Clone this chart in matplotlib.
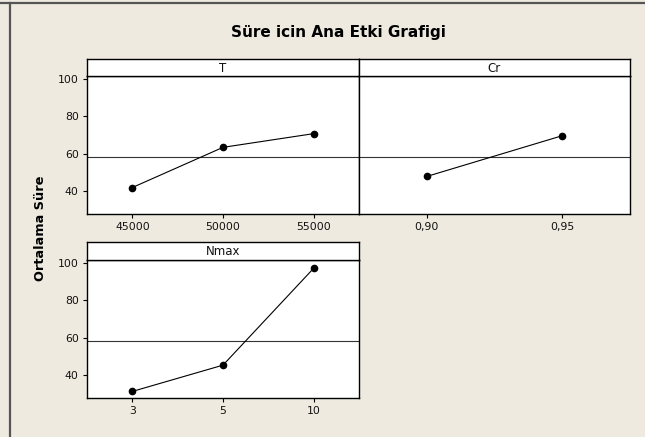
import matplotlib.pyplot as plt
from matplotlib.lines import Line2D

# factor levels and mean response for each level
t_levels = ["45000", "50000", "55000"]
t_means = [42.1, 63.5, 70.8]

cr_levels = ["0,90", "0,95"]
cr_means = [48.0, 69.7]

nmax_levels = ["3", "5", "10"]
nmax_means = [31.5, 45.5, 97.1]

grand_mean = 58.6
yticks = [40, 60, 80, 100]

W, H = 645, 437
bg = "#eeeae0"
font = "DejaVu Sans"

fig = plt.figure(figsize=(W / 100, H / 100), dpi=100, facecolor=bg)


def box(x0, y0, x1, y1):
    # pixel box (top-left origin) -> figure fraction rect
    return [x0 / W, 1 - y1 / H, (x1 - x0) / W, (y1 - y0) / H]


def panel(x0, x1, y_strip, y0, y1, name, levels, means, show_y):
    ax = fig.add_axes(box(x0, y0, x1, y1))
    ax.set_facecolor("white")
    pos = list(range(len(levels)))
    ax.axhline(grand_mean, color="#333333", lw=0.8, zorder=1)
    ax.plot(pos, means, color="black", lw=0.8, marker="o", ms=4.5, zorder=3)
    ax.set_xlim(-0.5, len(levels) - 0.5)
    ax.set_ylim(28, 101.5)
    ax.set_xticks(pos)
    ax.set_xticklabels(levels, fontsize=7.8, family=font, color="#111111")
    if show_y:
        ax.set_yticks(yticks)
        ax.set_yticklabels([str(v) for v in yticks], fontsize=7.8, family=font, color="#111111")
    else:
        ax.set_yticks([])
    ax.tick_params(direction="out", length=3, width=0.8, pad=3)
    for s in ax.spines.values():
        s.set_linewidth(1.0)

    # strip with factor name
    st = fig.add_axes(box(x0, y_strip, x1, y0))
    st.set_facecolor("white")
    st.set_xticks([])
    st.set_yticks([])
    for s in st.spines.values():
        s.set_linewidth(1.0)
    st.text(0.5, 0.45, name, ha="center", va="center", fontsize=8.5, family=font,
            color="#111111", transform=st.transAxes)
    return ax


panel(87, 359, 58.5, 76, 214, "T", t_levels, t_means, True)
panel(359, 630, 58.5, 76, 214, "Cr", cr_levels, cr_means, False)
panel(87, 359, 242, 260, 398, "Nmax", nmax_levels, nmax_means, True)

fig.text(338 / W, 1 - 33 / H, "Süre icin Ana Etki Grafigi", ha="center", va="center",
         fontsize=11, fontweight="bold", family=font)
fig.text(40 / W, 1 - 228 / H, "Ortalama Süre", ha="center", va="center", rotation=90,
         fontsize=9.3, fontweight="bold", family=font)

# window frame lines along top and left edge
fig.add_artist(Line2D([0, 1], [1 - 2.5 / H, 1 - 2.5 / H], color="#555555", lw=1.6,
                      transform=fig.transFigure))
fig.add_artist(Line2D([9.5 / W, 9.5 / W], [0, 1 - 2.5 / H], color="#555555", lw=1.6,
                      transform=fig.transFigure))

fig.savefig("out.png", dpi=100, facecolor=bg)
